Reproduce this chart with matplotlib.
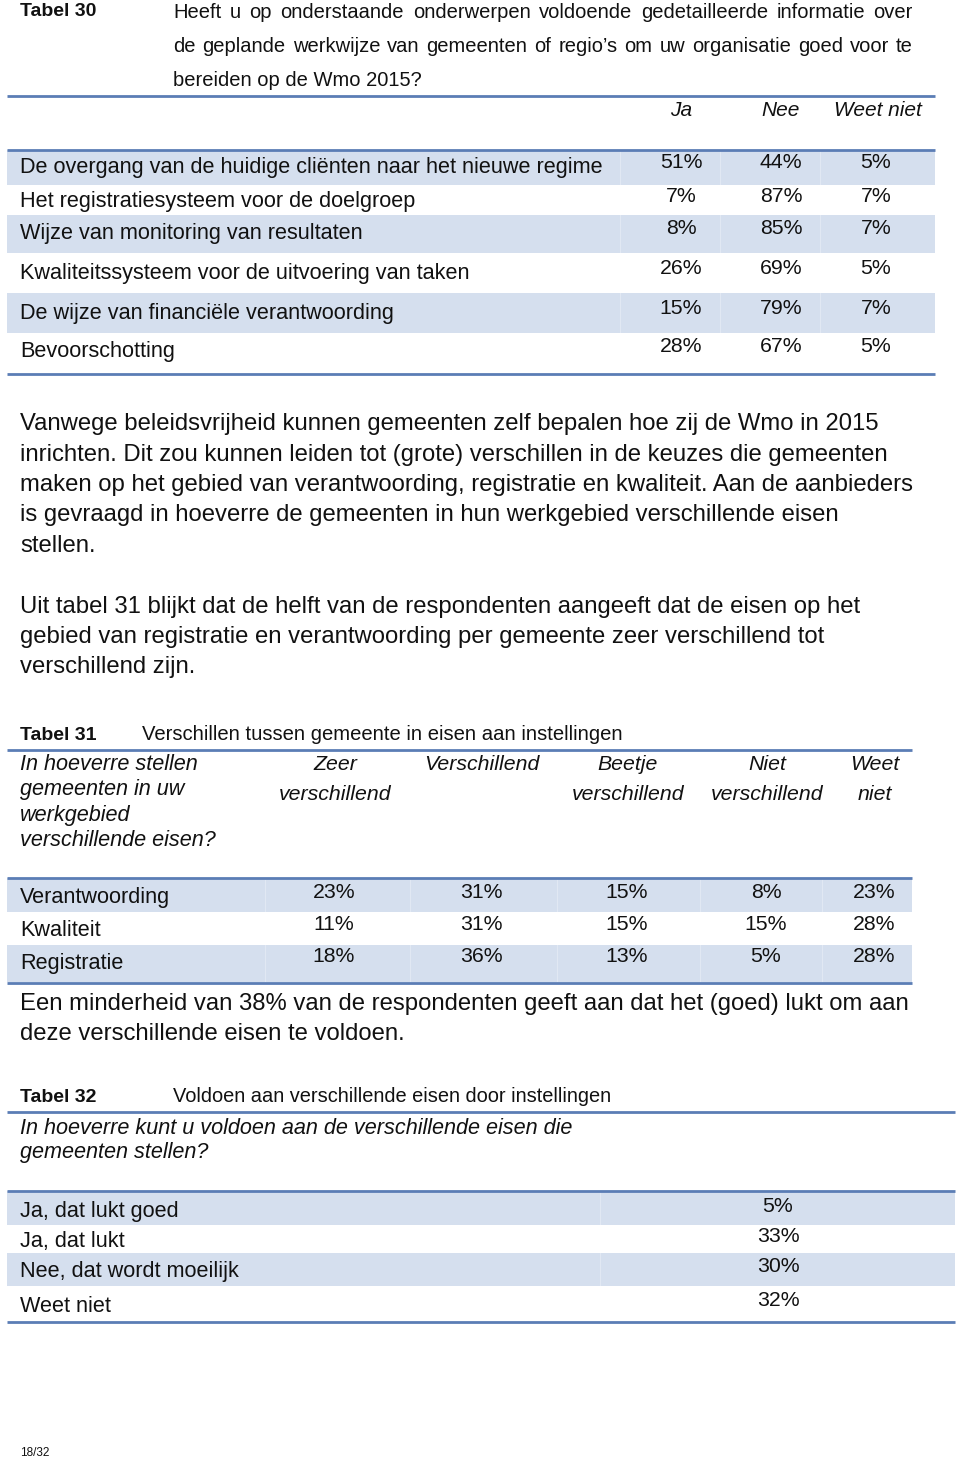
import matplotlib
matplotlib.use("Agg")
import matplotlib.pyplot as plt
from matplotlib.patches import Rectangle

plt.rcParams['font.family'] = ['Liberation Sans', 'DejaVu Sans']

# Tabel 30
t30_question = ["Heeft u op onderstaande onderwerpen voldoende gedetailleerde informatie over",
                "de geplande werkwijze van gemeenten of regio\u2019s om uw organisatie goed voor te",
                "bereiden op de Wmo 2015?"]
t30_cols = ["Ja", "Nee", "Weet niet"]
t30_rows = ["De overgang van de huidige cli\u00ebnten naar het nieuwe regime",
            "Het registratiesysteem voor de doelgroep",
            "Wijze van monitoring van resultaten",
            "Kwaliteitssysteem voor de uitvoering van taken",
            "De wijze van financi\u00eble verantwoording",
            "Bevoorschotting"]
t30_ja = [51, 7, 8, 26, 15, 28]
t30_nee = [44, 87, 85, 69, 79, 67]
t30_weet = [5, 7, 7, 5, 7, 5]

para1 = ["Vanwege beleidsvrijheid kunnen gemeenten zelf bepalen hoe zij de Wmo in 2015",
         "inrichten. Dit zou kunnen leiden tot (grote) verschillen in de keuzes die gemeenten",
         "maken op het gebied van verantwoording, registratie en kwaliteit. Aan de aanbieders",
         "is gevraagd in hoeverre de gemeenten in hun werkgebied verschillende eisen",
         "stellen."]
para2 = ["Uit tabel 31 blijkt dat de helft van de respondenten aangeeft dat de eisen op het",
         "gebied van registratie en verantwoording per gemeente zeer verschillend tot",
         "verschillend zijn."]

# Tabel 31
t31_title = "Verschillen tussen gemeente in eisen aan instellingen"
t31_question = ["In hoeverre stellen", "gemeenten in uw", "werkgebied", "verschillende eisen?"]
t31_cols = [["Zeer", "verschillend"], ["Verschillend"], ["Beetje", "verschillend"],
            ["Niet", "verschillend"], ["Weet", "niet"]]
t31_rows = ["Verantwoording", "Kwaliteit", "Registratie"]
t31_values = [[23, 31, 15, 8, 23],
              [11, 31, 15, 15, 28],
              [18, 36, 13, 5, 28]]

para3 = ["Een minderheid van 38% van de respondenten geeft aan dat het (goed) lukt om aan",
         "deze verschillende eisen te voldoen."]

# Tabel 32
t32_title = "Voldoen aan verschillende eisen door instellingen"
t32_question = ["In hoeverre kunt u voldoen aan de verschillende eisen die", "gemeenten stellen?"]
t32_rows = ["Ja, dat lukt goed", "Ja, dat lukt", "Nee, dat wordt moeilijk", "Weet niet"]
t32_values = [5, 33, 30, 32]

BAND = "#d5dfee"
RULE = "#5b7db5"
TXT = "#111111"

fig = plt.figure(figsize=(9.6, 14.63), dpi=100)
ax = fig.add_axes([0, 0, 1, 1])
ax.set_xlim(0, 960)
ax.set_ylim(1463, 0)
ax.axis('off')


def rule(y, x0, x1, lw=2.0):
    ax.plot([x0, x1], [y, y], color=RULE, lw=lw, solid_capstyle='butt')


def band(y0, y1, x0, x1, gaps=()):
    ax.add_patch(Rectangle((x0, y0), x1 - x0, y1 - y0, color=BAND, lw=0))
    for g in gaps:
        ax.plot([g, g], [y0, y1], color="white", lw=0.8, alpha=0.3)


def justify(line, x0, x1, y, size):
    words = line.split()
    r = fig.canvas.get_renderer()
    inv = ax.transData.inverted()
    objs, widths = [], []
    for w in words:
        t = ax.text(x0, y, w, fontsize=size, va='center', ha='left', color=TXT)
        bb = t.get_window_extent(renderer=r)
        (a, _), (b, _) = inv.transform([[bb.x0, bb.y0], [bb.x1, bb.y1]])
        objs.append(t)
        widths.append(b - a)
    gap = (x1 - x0 - sum(widths)) / (len(words) - 1)
    x = x0
    for t, w in zip(objs, widths):
        t.set_x(x)
        x += w + gap


LAB = 15.6
VAL = 15.3
PAR = 17.2
HEAD = 14.0

# ---- Tabel 30 ----
ax.text(20, 12, "Tabel 30", fontsize=14, fontweight='bold', va='center', color=TXT)
justify(t30_question[0], 173, 913, 12, 14.5)
justify(t30_question[1], 173, 913, 46, 14.5)
ax.text(173, 80, t30_question[2], fontsize=14.5, va='center', color=TXT)
rule(96, 7, 935)
for x, c in zip([681, 781, 878], t30_cols):
    ax.text(x, 110, c, fontsize=15, style='italic', ha='center', va='center', color=TXT)

t30_bands = [(150, 185), (185, 215), (215, 253), (253, 293), (293, 333), (333, 373)]
t30_label_y = [168, 202, 234, 273, 313, 352]
for i in [0, 2, 4]:
    y0, y1 = t30_bands[i]
    band(y0, y1, 7, 935, gaps=(620, 720, 820))
rule(150, 7, 935)
rule(374, 7, 935)
for i, lab in enumerate(t30_rows):
    yl = t30_label_y[i]
    ax.text(20, yl, lab, fontsize=LAB, va='center', color=TXT)
    for x, v in zip([681, 781, 876], [t30_ja[i], t30_nee[i], t30_weet[i]]):
        ax.text(x, yl - 5, f"{v}%", fontsize=VAL, ha='center', va='center', color=TXT)

# ---- paragraphs ----
for k, line in enumerate(para1):
    ax.text(20, 424 + k * 30.5, line, fontsize=PAR, va='center', color=TXT)
for k, line in enumerate(para2):
    ax.text(20, 607 + k * 30, line, fontsize=PAR, va='center', color=TXT)

# ---- Tabel 31 ----
ax.text(20, 735, "Tabel 31", fontsize=HEAD, fontweight='bold', va='center', color=TXT)
ax.text(142, 735, t31_title, fontsize=14.6, va='center', color=TXT)
rule(750, 7, 912)
for k, line in enumerate(t31_question):
    ax.text(20, 765 + k * 25, line, fontsize=15.6, style='italic', va='center', color=TXT)
t31_x = [335, 482, 628, 767, 875]
for x, c in zip(t31_x, t31_cols):
    for k, part in enumerate(c):
        ax.text(x, 765 + k * 29, part, fontsize=15.3, style='italic', ha='center', va='center',
                color=TXT)
t31_bands = [(878, 912), (912, 945), (945, 982)]
t31_label_y = [898, 931, 963]
for i in [0, 2]:
    y0, y1 = t31_bands[i]
    band(y0, y1, 7, 912, gaps=(265, 410, 557, 700, 822))
rule(878, 7, 912)
rule(983, 7, 912)
for i, lab in enumerate(t31_rows):
    yl = t31_label_y[i]
    ax.text(20, yl, lab, fontsize=LAB, va='center', color=TXT)
    for x, v in zip(t31_x, t31_values[i]):
        ax.text(x - 1, yl - 6, f"{v}%", fontsize=VAL, ha='center', va='center', color=TXT)

for k, line in enumerate(para3):
    ax.text(20, 1004 + k * 30.5, line, fontsize=PAR, va='center', color=TXT)

# ---- Tabel 32 ----
ax.text(20, 1097, "Tabel 32", fontsize=HEAD, fontweight='bold', va='center', color=TXT)
ax.text(173, 1097, t32_title, fontsize=14.4, va='center', color=TXT)
rule(1112, 7, 955)
for k, line in enumerate(t32_question):
    ax.text(20, 1128 + k * 24.5, line, fontsize=15.6, style='italic', va='center', color=TXT)
t32_bands = [(1191, 1225), (1225, 1253), (1253, 1286), (1286, 1321)]
t32_label_y = [1212, 1242, 1272, 1306]
for i in [0, 2]:
    y0, y1 = t32_bands[i]
    band(y0, y1, 7, 955, gaps=(600,))
rule(1191, 7, 955)
rule(1322, 7, 955)
for i, lab in enumerate(t32_rows):
    yl = t32_label_y[i]
    ax.text(20, yl, lab, fontsize=LAB, va='center', color=TXT)
    ax.text(778, yl - 6, f"{t32_values[i]}%", fontsize=VAL, ha='center', va='center', color=TXT)

ax.text(20, 1453, "18/32", fontsize=8.5, va='center', color=TXT)

fig.savefig("out.png", dpi=100)
